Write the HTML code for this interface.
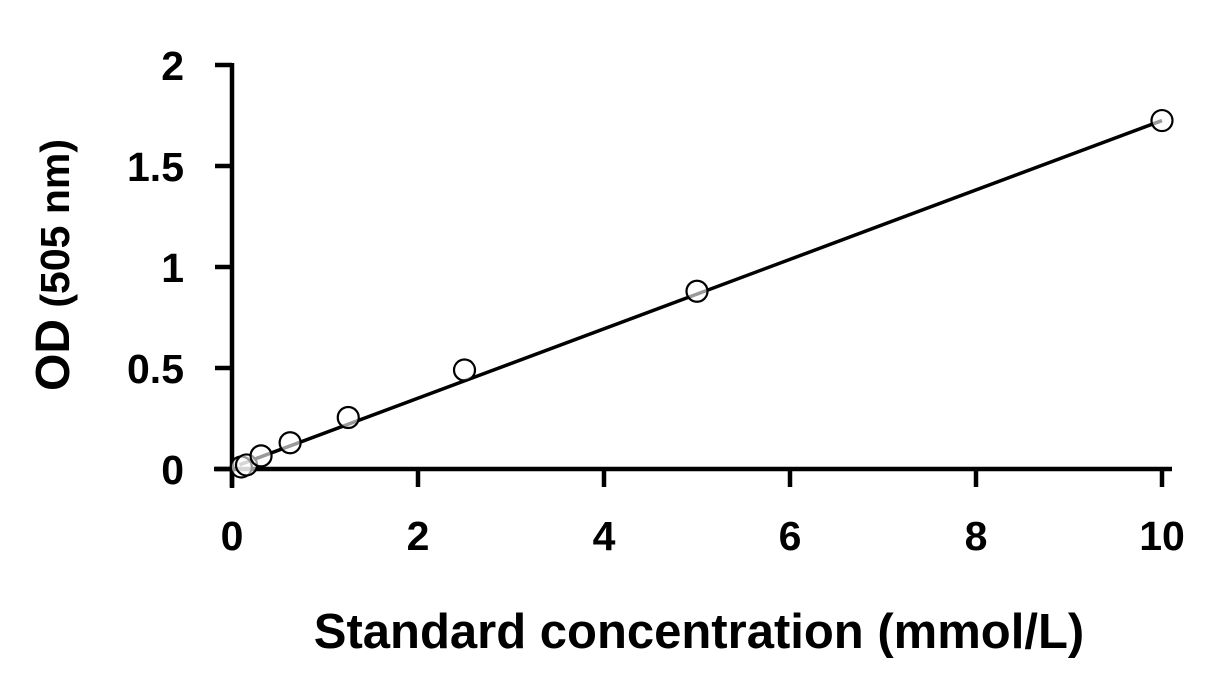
<!DOCTYPE html>
<html><head><meta charset="utf-8"><style>
body{margin:0;background:#fff}
svg{display:block}
text{font-family:"Liberation Sans",Arial,sans-serif;font-weight:bold;fill:#000}
</style></head><body>
<svg id="chart" width="1210" height="689" viewBox="0 0 1210 689">
<g id="axes"></g><g id="marks"></g>
<text x="699" y="648" font-size="49" text-anchor="middle">Standard concentration (mmol/L)</text>
<text transform="translate(69,265) rotate(-90)" text-anchor="middle"><tspan font-size="48">OD</tspan><tspan font-size="41"> (505 nm)</tspan></text>
</svg>
<script>
const xTicks=[0,2,4,6,8,10];
const yTicks=[0,0.5,1,1.5,2];
const yTickLabels=["0","0.5","1","1.5","2"];
const concentrations=[0.1,0.156,0.3125,0.625,1.25,2.5,5,10];
const odValues=[0.01,0.02,0.065,0.13,0.255,0.49,0.88,1.725];
const fitSlope=0.1718;
const fitIntercept=0.007;
const fitRange=[0.08,10];
const X0=232,X1=1162,Y0=469,Y1=65;
const sx=v=>X0+(v-0)/(10-0)*(X1-X0);
const sy=v=>Y0-(v-0)/(2-0)*(Y0-Y1);
const NS="http://www.w3.org/2000/svg";
const axes=document.getElementById('axes'),marks=document.getElementById('marks');
function mk(tag,attrs,parent){const e=document.createElementNS(NS,tag);for(const k in attrs)e.setAttribute(k,attrs[k]);parent.appendChild(e);return e;}
let e;
e=mk('line',{x1:X0,y1:Y1-2,x2:X0,y2:Y0+19,stroke:'#000','stroke-width':4.5},axes);


e=mk('line',{x1:X0-18,y1:Y0,x2:1172,y2:Y0,stroke:'#000','stroke-width':4.5},axes);


yTicks.forEach((v,i)=>{
 let t=mk('line',{x1:X0-17,y1:sy(v),x2:X0,y2:sy(v),stroke:'#000','stroke-width':4.5},axes);
 
 
 let l=mk('text',{x:X0-48,y:sy(v)+15,'font-size':41,'text-anchor':'end'},axes);
 l.textContent=yTickLabels[i];
 
 
});
xTicks.forEach(v=>{
 let t=mk('line',{x1:sx(v),y1:Y0,x2:sx(v),y2:Y0+18,stroke:'#000','stroke-width':4.5},axes);
 
 
 let l=mk('text',{x:sx(v),y:550,'font-size':41,'text-anchor':'middle'},axes);
 l.textContent=String(v);
 
 
});
e=mk('line',{x1:sx(fitRange[0]),y1:sy(fitSlope*fitRange[0]+fitIntercept),x2:sx(fitRange[1]),y2:sy(fitSlope*fitRange[1]+fitIntercept),stroke:'#000','stroke-width':3.5},marks);


concentrations.forEach((c,i)=>{
 let p=mk('circle',{cx:sx(c),cy:sy(odValues[i]),r:10.5,fill:'#fff','fill-opacity':0.6,stroke:'#000','stroke-width':2.2},marks);
 
 
});
</script>
</body></html>
